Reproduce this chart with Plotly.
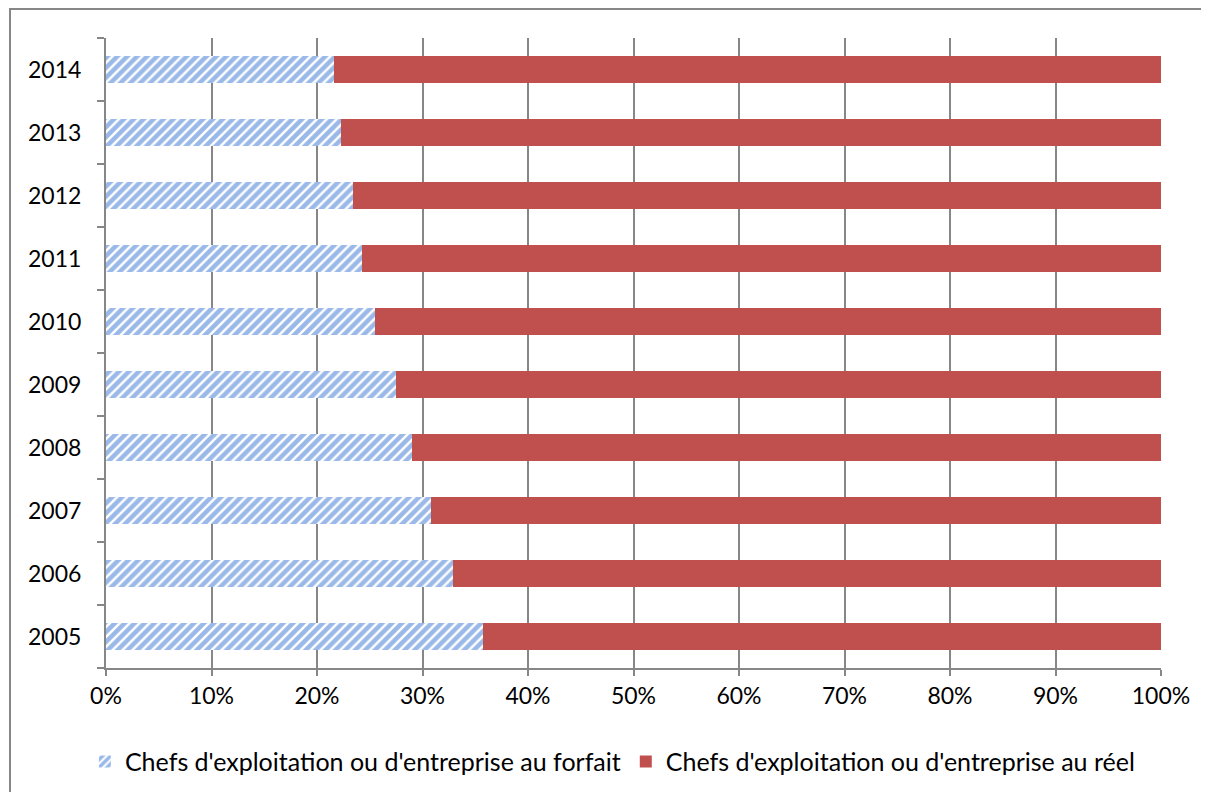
import plotly.graph_objects as go

years = ["2005", "2006", "2007", "2008", "2009", "2010", "2011", "2012", "2013", "2014"]
forfait = [35.7, 32.9, 30.8, 29.0, 27.5, 25.5, 24.3, 23.4, 22.3, 21.6]
reel = [100 - v for v in forfait]

name_forfait = "Chefs d'exploitation ou d'entreprise au forfait"
name_reel = "Chefs d'exploitation ou d'entreprise au réel"

grey = "#878787"

fig = go.Figure()
fig.add_trace(go.Bar(
    y=years, x=forfait, orientation="h", name=name_forfait,
    marker=dict(color="white", line=dict(width=0),
                pattern=dict(shape="/", fgcolor="#3574D4", bgcolor="white",
                             size=7, solidity=0.65)),
))
fig.add_trace(go.Bar(
    y=years, x=reel, orientation="h", name=name_reel,
    marker=dict(color="#C0504D", line=dict(width=0)),
))

fig.update_layout(
    width=1209, height=792,
    barmode="stack", bargap=0.58,
    plot_bgcolor="white", paper_bgcolor="white",
    font=dict(family="Lato, Calibri, sans-serif", size=23, color="black"),
    margin=dict(l=98, r=56, t=30, b=132, autoexpand=False),
    legend=dict(orientation="h", x=-0.02, xanchor="left", y=-0.149, yanchor="middle",
                traceorder="normal", font=dict(size=25), itemwidth=30),
    showlegend=True,
)
fig.update_xaxes(
    range=[0, 100], tickvals=[0, 10, 20, 30, 40, 50, 60, 70, 80, 90, 100],
    ticktext=[f"{v}%" for v in range(0, 101, 10)],
    showgrid=True, gridcolor=grey, gridwidth=2,
    showline=True, linecolor=grey, linewidth=2,
    ticks="outside", ticklen=6, tickcolor=grey, tickwidth=2,
    zeroline=False, fixedrange=True, automargin=False,
)
fig.update_yaxes(
    showgrid=False, showline=True, linecolor=grey, linewidth=2,
    ticks="outside", tickson="boundaries", ticklen=7, tickcolor=grey, tickwidth=2,
    ticklabelstandoff=18, fixedrange=True, automargin=False,
)

# chart area border
fig.add_shape(type="rect", xref="paper", yref="paper",
              x0=-0.091, x1=1.1, y0=1.046, y1=-0.3,
              line=dict(color=grey, width=2), fillcolor="rgba(0,0,0,0)", layer="below")

fig.write_html("out.html")
